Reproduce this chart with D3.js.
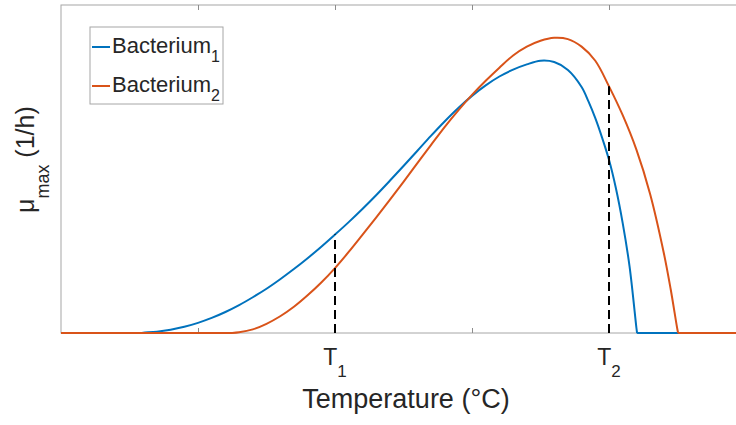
<!DOCTYPE html>
<html>
<head>
<meta charset="utf-8">
<script src="https://cdn.jsdelivr.net/npm/d3@7"></script>
<style>
body { margin: 0; background: #fff; }
text { font-family: "Liberation Sans", Arial, sans-serif; fill: #262626; }
</style>
</head>
<body>
<script>
// Bacterium 1 (blue)
var temps1 = [0, 5.8, 6, 7, 8, 9, 10, 11, 12, 13, 14, 15, 16, 17, 18, 19, 20, 21, 22, 23, 24,
              25, 26, 27, 28, 29, 30, 31, 32, 33, 34, 35, 36, 37, 38, 38.5, 39, 39.5, 40,
              40.5, 41, 41.5, 42, 42.05, 50];
var mu1 = [0, 0, 0.001, 0.004, 0.010, 0.019, 0.031, 0.046, 0.064, 0.085, 0.109, 0.135, 0.164,
           0.195, 0.228, 0.263, 0.300, 0.338, 0.378, 0.420, 0.464, 0.509, 0.555, 0.601, 0.645,
           0.686, 0.723, 0.755, 0.782, 0.803, 0.819, 0.830, 0.826, 0.802, 0.750, 0.706, 0.655,
           0.595, 0.528, 0.442, 0.335, 0.203, 0.016, 0, 0];

// Bacterium 2 (orange)
var temps2 = [0, 12.5, 13, 14, 15, 16, 17, 18, 19, 20, 21, 22, 23, 24, 25, 26, 27, 28, 29, 30,
              31, 32, 33, 34, 35, 36, 37, 38, 39, 40, 41, 42, 43, 44, 44.5, 45, 45.05, 50];
var mu2 = [0, 0, 0.002, 0.011, 0.028, 0.051, 0.080, 0.115, 0.154, 0.198, 0.247, 0.299, 0.352,
           0.406, 0.461, 0.517, 0.573, 0.628, 0.679, 0.726, 0.769, 0.809, 0.846, 0.873, 0.891,
           0.900, 0.896, 0.873, 0.830, 0.752, 0.664, 0.559, 0.424, 0.244, 0.134, 0.009, 0, 0];

var seriesNames = ["Bacterium", "Bacterium"];
var seriesSubs = ["1", "2"];
var colors = ["#0072BD", "#D95319"];

// x ticks, only T1 and T2 are labelled
var xTicks = [10, 20, 30, 40];
var xTickNames = ["", "T", "", "T"];
var xTickSubs = ["", "1", "", "2"];

// dashed markers at T1 and T2
var markerTemps = [20, 40];
var markerTops = [0.300, 0.752];

var w = 736;
var h = 425;

var svg = d3.select('body')
            .append('svg')
            .attr('width', w)
            .attr('height', h);

var x = d3.scaleLinear().domain([0, 50]).range([61, 746]);
var y = d3.scaleLinear().domain([0, 1]).range([333, 5]);

// frame
svg.append('rect')
  .attr('x', x(0))
  .attr('y', y(1))
  .attr('width', x(50) - x(0))
  .attr('height', y(0) - y(1))
  .attr('fill', 'none')
  .attr('stroke', '#a6a6a6')
  .attr('stroke-width', 1);

// inward ticks, bottom and top
var bottomAxis = svg.append('g')
  .attr('transform', 'translate(0,' + y(0) + ')')
  .call(d3.axisBottom(x).tickValues(xTicks).tickSize(-5).tickFormat(''));
var topAxis = svg.append('g')
  .attr('transform', 'translate(0,' + y(1) + ')')
  .call(d3.axisTop(x).tickValues(xTicks).tickSize(-5).tickFormat(''));
[bottomAxis, topAxis].forEach(g => {
  g.select('.domain').remove();
  g.selectAll('line').attr('stroke', '#8c8c8c');
});

// tick labels with subscripts
var lbl = svg.selectAll('text.xtick')
  .data(xTicks)
  .enter()
  .append('text')
  .attr('class', 'xtick')
  .attr('x', d => x(d))
  .attr('y', 365)
  .attr('text-anchor', 'middle')
  .attr('font-size', '23px');
lbl.append('tspan').text((d, i) => xTickNames[i]);
lbl.append('tspan').attr('dy', 12).attr('font-size', '17px').text((d, i) => xTickSubs[i]);

// curves: flat zero parts straight, growth part smooth
var flatLine = d3.line()
  .x(d => x(d[0]))
  .y(d => y(d[1]));
var smoothLine = d3.line()
  .x(d => x(d[0]))
  .y(d => y(d[1]))
  .curve(d3.curveCatmullRom.alpha(0.5));

function curvePath(pts) {
  var first = pts.findIndex(p => p[1] > 0) - 1;
  var last = first + 1;
  while (pts[last][1] > 0) last++;
  return flatLine(pts.slice(0, first + 1)) +
         smoothLine(pts.slice(first, last + 1)) +
         flatLine(pts.slice(last));
}

var series = [d3.zip(temps1, mu1), d3.zip(temps2, mu2)];

svg.selectAll('path.curve')
  .data(series)
  .enter()
  .append('path')
  .attr('class', 'curve')
  .attr('d', curvePath)
  .attr('fill', 'none')
  .attr('stroke', (d, i) => colors[i])
  .attr('stroke-width', 2)
  .attr('stroke-linejoin', 'round');

// dashed lines
svg.selectAll('line.marker')
  .data(markerTemps)
  .enter()
  .append('line')
  .attr('class', 'marker')
  .attr('x1', d => x(d))
  .attr('x2', d => x(d))
  .attr('y1', y(0))
  .attr('y2', (d, i) => y(markerTops[i]))
  .attr('stroke', '#000')
  .attr('stroke-width', 2)
  .attr('stroke-dasharray', '9,5');

// axis labels
svg.append('text')
  .attr('x', 406)
  .attr('y', 408)
  .attr('text-anchor', 'middle')
  .attr('font-size', '27px')
  .text('Temperature (°C)');

var ylab = svg.append('text')
  .attr('transform', 'translate(34,213) rotate(-90)')
  .attr('font-size', '25px');
ylab.append('tspan').text('μ');
ylab.append('tspan').attr('dy', 15).attr('font-size', '18px').text('max');
ylab.append('tspan').attr('dy', -15).text(' (1/h)');

// legend
var legend = svg.append('g');
legend.append('rect')
  .attr('x', 90)
  .attr('y', 27)
  .attr('width', 133)
  .attr('height', 77)
  .attr('fill', '#fff')
  .attr('stroke', '#a6a6a6')
  .attr('stroke-width', 1);

var items = legend.selectAll('g.item')
  .data(seriesNames)
  .enter()
  .append('g')
  .attr('class', 'item')
  .attr('transform', (d, i) => 'translate(0,' + (i * 39) + ')');
items.append('line')
  .attr('x1', 92)
  .attr('x2', 110)
  .attr('y1', 47)
  .attr('y2', 47)
  .attr('stroke', (d, i) => colors[i])
  .attr('stroke-width', 2);
var itemText = items.append('text')
  .attr('x', 112)
  .attr('y', 53)
  .attr('font-size', '22px');
itemText.append('tspan').text(d => d);
itemText.append('tspan').attr('dy', 9).attr('font-size', '16px').text((d, i) => seriesSubs[i]);
</script>
</body>
</html>
